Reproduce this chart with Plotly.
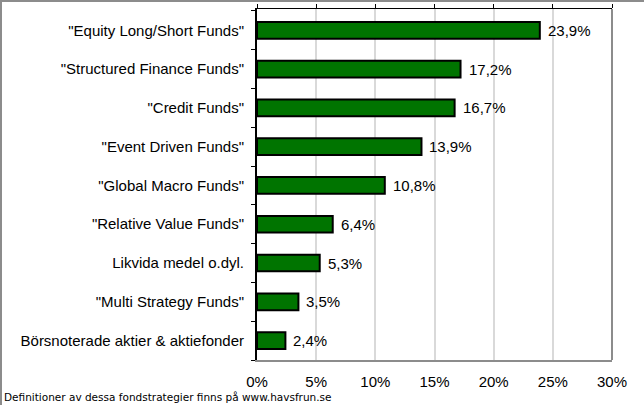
import plotly.graph_objects as go

categories = [
    '"Equity Long/Short Funds"',
    '"Structured Finance Funds"',
    '"Credit Funds"',
    '"Event Driven Funds"',
    '"Global Macro Funds"',
    '"Relative Value Funds"',
    'Likvida medel o.dyl.',
    '"Multi Strategy Funds"',
    'Börsnoterade aktier & aktiefonder',
]
values = [23.9, 17.2, 16.7, 13.9, 10.8, 6.4, 5.3, 3.5, 2.4]
labels = [f"{v:.1f}%".replace(".", ",") for v in values]
tick_vals = [0, 5, 10, 15, 20, 25, 30]
tick_text = [f"{t}%" for t in tick_vals]
footer = "Definitioner av dessa fondstrategier finns på www.havsfrun.se"

W, H = 644, 405
L, R, T, B = 257, 32, 9, 45
PW, PH = W - L - R, H - T - B
FONT = "Liberation Sans, Arial"
FS = 15

fig = go.Figure()
fig.add_trace(go.Bar(
    y=categories, x=values, orientation="h",
    marker=dict(color="#007400", line=dict(color="#000000", width=2)),
    width=0.43,
    showlegend=False, hoverinfo="skip",
))
# invisible trace for top axis
fig.add_trace(go.Scatter(x=[0], y=[categories[0]], xaxis="x2", mode="markers",
                         marker=dict(opacity=0), showlegend=False, hoverinfo="skip"))

annotations = [
    dict(x=v, y=c, xref="x", yref="y", text=t, showarrow=False,
         xanchor="left", yanchor="middle", xshift=6,
         font=dict(family=FONT, size=FS, color="#000000"))
    for c, v, t in zip(categories, values, labels)
]
annotations.append(
    dict(text=footer, xref="paper", yref="paper",
         x=(2 - L) / PW, y=-(397 - (H - B)) / PH,
         xanchor="left", yanchor="middle", showarrow=False,
         font=dict(family="DejaVu Sans, Verdana", size=10.5, color="#000000"))
)

fig.update_layout(
    width=W, height=H,
    margin=dict(l=L, r=R, t=T, b=B, autoexpand=False),
    paper_bgcolor="white", plot_bgcolor="white",
    font=dict(family=FONT, size=FS, color="#000000"),
    xaxis=dict(
        range=[0, 30], tickvals=tick_vals, ticktext=tick_text,
        showgrid=True, gridcolor="#d9d9d9", gridwidth=2,
        showline=True, linecolor="#8c8c8c", linewidth=2,
        ticks="", zeroline=False, ticklabelstandoff=7,
        tickfont=dict(size=FS), automargin=False,
    ),
    xaxis2=dict(
        overlaying="x", side="top", matches="x", range=[0, 30],
        tickvals=tick_vals, showticklabels=False,
        showline=True, linecolor="#000000", linewidth=1,
        ticks="outside", ticklen=4, tickcolor="#000000", tickwidth=1,
        showgrid=False, zeroline=False, automargin=False,
    ),
    yaxis=dict(
        categoryorder="array", categoryarray=categories[::-1],
        showline=True, linecolor="#000000", linewidth=2,
        ticks="outside", tickson="boundaries", ticklen=4, tickcolor="#000000",
        tickwidth=1, ticklabelstandoff=8,
        tickfont=dict(size=FS), showgrid=False, automargin=False,
    ),
    shapes=[
        dict(type="line", xref="paper", yref="paper", x0=1, x1=1, y0=0, y1=1,
             line=dict(color="#8c8c8c", width=2)),
        dict(type="line", xref="paper", yref="paper",
             x0=-L / PW, x1=(W - L) / PW, y0=1 + (T - 1) / PH, y1=1 + (T - 1) / PH,
             line=dict(color="#8c8c8c", width=2)),
        dict(type="line", xref="paper", yref="paper",
             x0=-(L - 1) / PW, x1=-(L - 1) / PW, y0=-B / PH, y1=1 + T / PH,
             line=dict(color="#8c8c8c", width=2)),
    ],
    annotations=annotations,
)

fig.write_html("out.html", config={"displayModeBar": False},
               post_script="document.body.style.margin='0';")
